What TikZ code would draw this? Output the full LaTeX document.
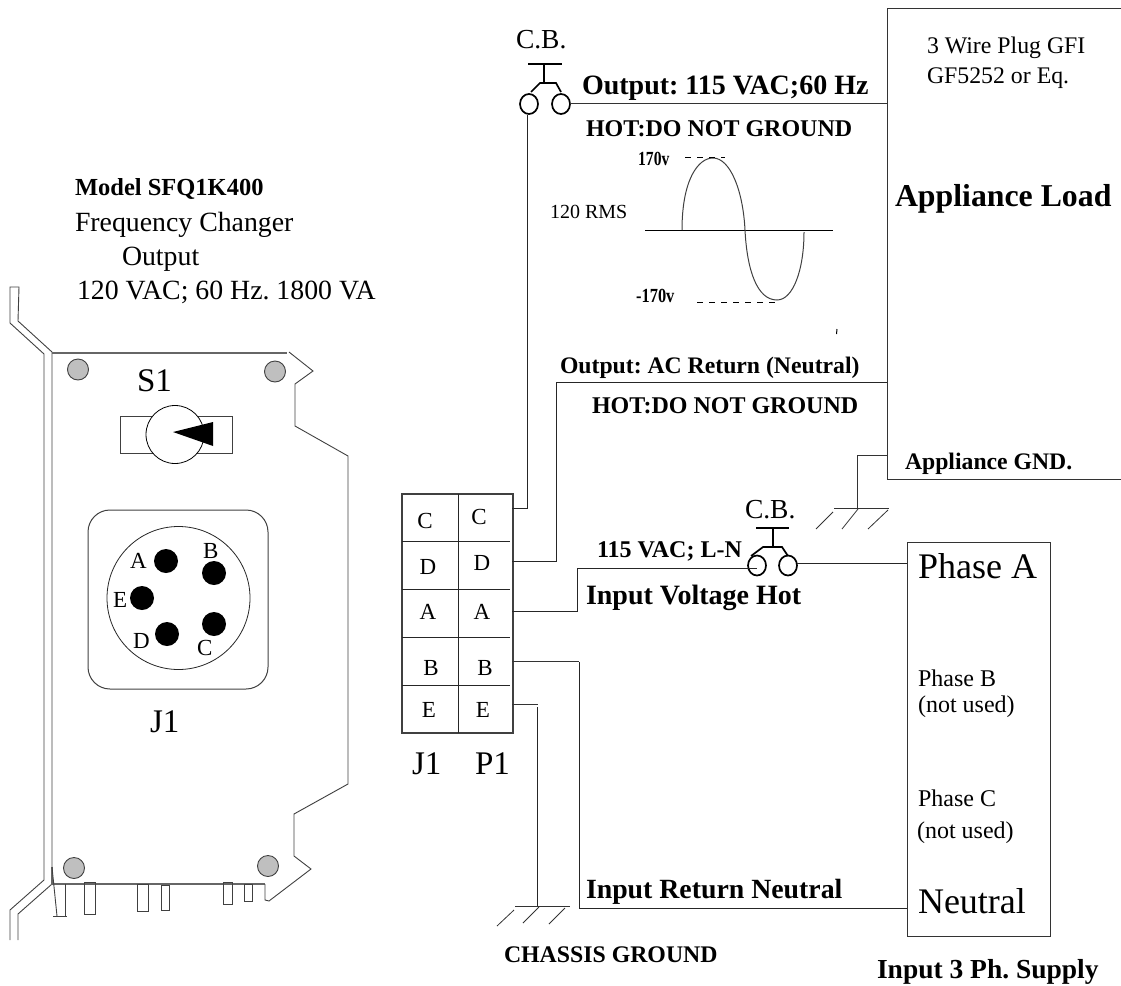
\documentclass[tikz,border=0pt]{standalone}
\usepackage{fontspec}
\setmainfont{Liberation Serif}
\newcommand{\fsz}[1]{\fontsize{#1}{#1}\selectfont\frenchspacing}
\usetikzlibrary{shapes.geometric}
\tikzset{
  x=1pt,y=-1pt,
  wire/.style={line width=1pt,black!85},
  thin wire/.style={line width=.8pt,black!80},
  panel/.style={line width=.9pt,black!75},
  txt/.style={anchor=base west,inner sep=0pt,outer sep=0pt,yshift=-1pt,font=\fsz{#1}},
  btxt/.style={anchor=base west,inner sep=0pt,outer sep=0pt,yshift=-1pt,font=\fsz{#1}\bfseries},
  ctxt/.style={anchor=base,inner sep=0pt,outer sep=0pt,font=\fsz{23}},
  hole/.style={circle,draw=black!75,fill=black!25,line width=.9pt,minimum size=21pt,inner sep=0pt},
  pin/.style={circle,fill=black,minimum size=24pt,inner sep=0pt},
  breaker/.style={ellipse,draw=black,line width=1.7pt,minimum width=18pt,minimum height=20pt,inner sep=0pt},
  box/.style={draw=black!80,line width=1pt,inner sep=0pt,anchor=north west},
}
\begin{document}
\begin{tikzpicture}
\useasboundingbox (0,0) rectangle (1121,985);
% ---- Left panel
\draw[panel] (10,323) -- (10,287) -- (19,287) -- (18,321) -- (52,352) -- (52,867);
\draw[panel] (10,323) -- (44,354) -- (44,880) -- (10,910) -- (10,940);
\draw[panel] (52,884) -- (18,914) -- (18,940);
\draw[line width=1.4pt,black!60] (52,353) -- (287,353);
\draw[line width=1.2pt,black!60] (52,867) -- (52,884) -- (265,884);
\draw[panel] (289,352) -- (313,371) -- (295,384) -- (295,426) -- (348,456) -- (348,784) -- (294,814) -- (294,856) -- (311,869) -- (269,901) -- (265,900) -- (265,884);
\draw[panel] (52,867) -- (57,916);
\draw[panel] (53,916) -- (67,916) (65,884) -- (65,916);
\draw[panel] (84,882) rectangle (95,914);
\draw[panel] (137,884) rectangle (148,911);
\draw[panel] (161,885) rectangle (169,910);
\draw[panel] (223,882) rectangle (232,904);
\draw[panel] (244,884) rectangle (252,901);
\node[hole] (h1) at (78,369.5) {};
\node[hole] (h2) at (275,371.5) {};
\node[hole] (h3) at (74,868) {};
\node[hole] (h4) at (268,866) {};
\node[txt=33] (s1) at (137,390) {S1};
\draw[line width=.9pt,black!75] (120,416) rectangle (232,453);
\node[circle,draw=black,fill=white,line width=.8pt,minimum size=58pt,inner sep=0pt] (sw) at (175,434.5) {};
\fill (173,432) -- (213,422) -- (213,446) -- cycle;
\draw[line width=1pt,black!75,rounded corners=22pt] (88,510) rectangle (268,689);
\node[circle,draw=black!85,line width=.8pt,minimum size=143pt,inner sep=0pt] (conn) at (178.5,598) {};
\node[pin] (pa) at (166,561) {};
\node[pin] (pb) at (214,573) {};
\node[pin] (pe) at (142,598) {};
\node[pin] (pd) at (167,634) {};
\node[pin] (pc) at (214,624) {};
\node[txt=23] (la) at (130,567) {A};
\node[txt=23] (lb) at (203,557) {B};
\node[txt=23] (le) at (113,606) {E};
\node[txt=23] (ld) at (133,647) {D};
\node[txt=23] (lc) at (197,654) {C};
\node[txt=33] (j1a) at (150,731) {J1};
% ---- Left text
\node[btxt=24.5] (t1) at (75,194) {Model SFQ1K400};
\node[txt=27.8] (t2) at (75,230) {Frequency Changer};
\node[txt=27.8] (t3) at (122,264) {Output};
\node[txt=27.8] (t4) at (77,298) {120 VAC; 60 Hz. 1800 VA};
% ---- Connector table
\draw[line width=1.1pt,black!75] (402,494) rectangle (513,733);
\draw[line width=1pt,black!85] (458,494) -- (458,733);
\foreach \yy in {541,589,637,685}{\draw[line width=1pt,black!85] (402,\yy) -- (510,\yy);}
\node[ctxt] (c1) at (425,528) {C};
\node[ctxt] (c2) at (479,524) {C};
\node[ctxt] (d1) at (428,574) {D};
\node[ctxt] (d2) at (482,570) {D};
\node[ctxt] (a1) at (428,619) {A};
\node[ctxt] (a2) at (482,619) {A};
\node[ctxt] (b1) at (431,675) {B};
\node[ctxt] (b2) at (485,675) {B};
\node[ctxt] (e1) at (429,717) {E};
\node[ctxt] (e2) at (483,717) {E};
\node[txt=33] (j1b) at (412,773) {J1};
\node[txt=33] (p1) at (475,773) {P1};
\coordinate (tC) at (512,508);
\coordinate (tD) at (512,561);
\coordinate (tA) at (512,611);
\coordinate (tB) at (512,661);
\coordinate (tE) at (512,704);
% ---- Appliance box
\draw[line width=1pt,black!80] (1121,8) -- (887,8) -- (887,479) -- (1121,479);
\coordinate (aHot) at (887,103);
\coordinate (aNeu) at (887,382);
\coordinate (aGnd) at (887,455);
\node[txt=23.8] (w1) at (927,52) {3 Wire Plug GFI};
\node[txt=23.8] (w2) at (927,82) {GF5252 or Eq.};
\node[btxt=31.8] (w3) at (895,205) {Appliance Load};
\node[btxt=23.7] (w4) at (905,468) {Appliance GND.};
% ---- Supply box
\node[box,minimum width=143pt,minimum height=394pt] (sup) at (907,542) {};
\coordinate (sA) at (907,563);
\coordinate (sN) at (907,908.5);
\node[txt=36] (pA) at (918,577) {Phase A};
\node[txt=24] (pB) at (918,685) {Phase B};
\node[txt=24] (pB2) at (918,711) {(not used)};
\node[txt=24] (pC) at (918,805) {Phase C};
\node[txt=24] (pC2) at (917,837) {(not used)};
\node[txt=36] (pN) at (918,912) {Neutral};
\node[btxt=27.5] (s3) at (877,977) {Input 3 Ph. Supply};
% ---- Breaker 1
\node[breaker] (cbal) at (529,104) {};
\node[breaker] (cbar) at (561,104) {};
\draw[line width=1.7pt] (528,64) -- (562,64);
\draw[line width=1.7pt] (544,64) -- (544,83);
\draw[line width=1.7pt] (531,92) -- (540,83) -- (556,83) -- (561,92);
\node[txt=27.5] (cb1) at (516,47) {C.B.};
% ---- Breaker 2
\node[breaker] (cbbl) at (757,565.5) {};
\node[breaker] (cbbr) at (788,565.5) {};
\draw[line width=1.7pt] (756,528) -- (789,528);
\draw[line width=1.7pt] (773,528) -- (773,547);
\draw[line width=1.7pt] (751,556) -- (763,547) -- (782,547) -- (788,556);
\node[txt=27.5] (cb2) at (745,517) {C.B.};
% ---- Wires
\draw[wire] (tC) -- (527,508) -- (cbal.south -| 527,0);
\draw[thin wire] (570,103) -- (aHot);
\draw[wire] (tD) -- (556,561) -- (556,382) -- (aNeu);
\draw[wire] (tA) -- (577,611) -- (577,568) -- (757,568);
\draw[wire] (797,563) -- (sA);
\draw[thin wire] (tB) -- (579,661);
\draw[wire] (579,662) -- (579,908.5) -- (sN);
\draw[thin wire] (tE) -- (538,704);
\draw[wire] (537,707) -- (537,906);
\draw[thin wire] (aGnd) -- (857,455) -- (857,508);
% ---- Grounds
\draw[thin wire] (834,508) -- (889,508);
\draw[thin wire] (816,529) -- (833,512) (842,529) -- (858,509) (868,529) -- (888,510);
\draw[thin wire] (515,906) -- (570,906);
\draw[thin wire] (497,926) -- (514,910) (523,923) -- (539,907) (549,924) -- (565,908);
% ---- Sine wave
\draw[line width=1pt,black] (645,230) -- (833,230);
\draw[line width=1pt,black!75] (682,230) .. controls (682,180) and (698,158) .. (713,158) .. controls (730,158) and (743,190) .. (745,230) .. controls (747,270) and (757,300) .. (777,300) .. controls (793,300) and (804,270) .. (804,232);
\draw[line width=1pt,dash pattern=on 6pt off 6pt] (685,157) -- (725,157);
\draw[line width=1pt,dash pattern=on 6pt off 6pt] (697,302) -- (778,302);
\draw[line width=1pt] (837,329) -- (836.5,334);
\node[anchor=base west,inner sep=0pt,font=\fsz{20}\bfseries,xscale=.78] (v1) at (638,165) {170v};
\node[anchor=base west,inner sep=0pt,font=\fsz{20}\bfseries,xscale=.82] (v2) at (636,302) {-170v};
\node[txt=20] (rms) at (550,217) {120 RMS};
% ---- Wire labels
\node[btxt=28] (o1) at (582,93) {Output: 115 VAC;60 Hz};
\node[btxt=24] (o2) at (586,135) {HOT:DO NOT GROUND};
\node[btxt=23.7] (o3) at (560,372) {Output: AC Return (Neutral)};
\node[btxt=24] (o4) at (592,412) {HOT:DO NOT GROUND};
\node[btxt=24] (o5) at (597,556) {115 VAC; L-N};
\node[btxt=28] (o6) at (586,603) {Input Voltage Hot};
\node[btxt=27.8] (o7) at (586,897) {Input Return Neutral};
\node[btxt=23.8] (o8) at (504,961) {CHASSIS GROUND};
\end{tikzpicture}
\end{document}
